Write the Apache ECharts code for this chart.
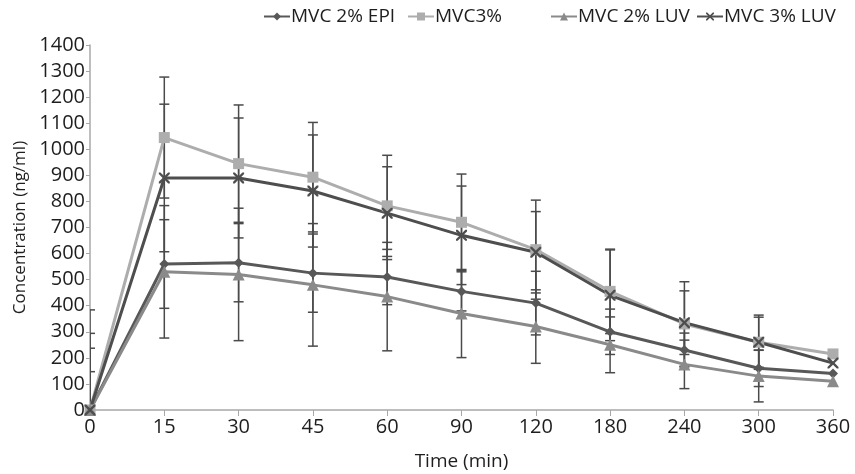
<!DOCTYPE html>
<html>
<head>
<meta charset="UTF-8">
<title>Concentration vs time</title>
<script type="text/javascript" src="https://cdn.jsdelivr.net/npm/echarts@6/dist/echarts.min.js"></script>
<style>
  body{margin:0;background:#fff}
</style>
</head>
<body>
<div id="main" style="width:855px;height:474px"></div>
<script type="text/javascript">
// time points (min)
var categories = ['0','15','30','45','60','90','120','180','240','300','360'];

// mean concentrations (ng/ml)
var epi2 = [0,560,565,525,510,455,410,300,230,160,140];
var mvc3 = [0,1045,945,893,783,720,615,455,330,260,215];
var luv2 = [0,530,520,480,435,370,320,250,175,130,110];
var luv3 = [0,890,890,840,755,670,605,440,335,260,180];

// error bar half-widths (ng/ml)
var epi2Err = [237,170,150,150,106,75,122,87,65,70,0];
var mvc3Err = [384,232,225,210,194,185,190,162,162,104,0];
var luv2Err = [147,254,254,235,208,169,141,107,93,99,0];
var luv3Err = [294,283,230,215,178,189,156,174,122,96,0];

var FONT = 'Open Sans';
var xMark = 'path://M0,0 L1.5,0 L5,3.5 L8.5,0 L10,0 L10,1.5 L6.5,5 L10,8.5 L10,10 L8.5,10 L5,6.5 L1.5,10 L0,10 L0,8.5 L3.5,5 L0,1.5 Z';

function errData(vals, errs) {
  return vals.map(function (v, i) { return [i, v - errs[i], v + errs[i]]; });
}

function errSeries(vals, errs) {
  return {
    type: 'custom',
    silent: true,
    clip: true,
    z: 1,
    data: errData(vals, errs),
    encode: {x: 0, y: [1, 2]},
    renderItem: function (params, api) {
      if (api.value(2) - api.value(1) <= 0) return null;
      var lo = api.coord([api.value(0), api.value(1)]);
      var hi = api.coord([api.value(0), api.value(2)]);
      var w = 5;
      var st = {stroke: '#4a4a4a', lineWidth: 1.5};
      return {
        type: 'group',
        children: [
          {type: 'line', shape: {x1: lo[0], y1: lo[1], x2: hi[0], y2: hi[1]}, style: st},
          {type: 'line', shape: {x1: lo[0]-w, y1: lo[1], x2: lo[0]+w, y2: lo[1]}, style: st},
          {type: 'line', shape: {x1: hi[0]-w, y1: hi[1], x2: hi[0]+w, y2: hi[1]}, style: st}
        ]
      };
    }
  };
}

function lineSeries(name, vals, color, symbol, size) {
  return {
    name: name,
    type: 'line',
    data: vals,
    z: 3,
    symbol: symbol,
    symbolSize: size,
    lineStyle: {color: color, width: 3},
    itemStyle: {color: color, borderWidth: 0}
  };
}

function legendAt(left, name) {
  return {
    left: left, top: 2,
    data: [name],
    itemWidth: 26, itemHeight: 10,
    itemGap: 0,
    textStyle: {fontFamily: FONT, fontSize: 19, color: '#1e1e1e', padding: [0,0,0,-4]}
  };
}

var myChart = echarts.init(document.getElementById('main'));
var option = {
  animation: false,
  backgroundColor: '#fff',
  legend: [
    legendAt(258, 'MVC 2% EPI'),
    legendAt(402, 'MVC3%'),
    legendAt(545, 'MVC 2% LUV'),
    legendAt(691, 'MVC 3% LUV')
  ],
  grid: {left: 90, right: 22, top: 45, bottom: 64, outerBoundsMode: 'none'},
  xAxis: {
    type: 'category',
    boundaryGap: false,
    data: categories,
    name: 'Time (min)',
    nameLocation: 'middle',
    nameGap: 42,
    nameTextStyle: {fontFamily: FONT, fontSize: 19, color: '#1e1e1e'},
    axisLine: {lineStyle: {color: '#a8a8a8', width: 1.5}},
    axisTick: {show: true, alignWithLabel: true, length: 6, lineStyle: {color: '#a8a8a8'}},
    axisLabel: {fontFamily: FONT, fontSize: 20, color: '#1e1e1e', margin: 7},
    splitLine: {show: false}
  },
  yAxis: {
    type: 'value',
    min: 0, max: 1400, interval: 100,
    name: 'Concentration (ng/ml)',
    nameLocation: 'middle',
    nameGap: 60,
    nameTextStyle: {fontFamily: FONT, fontSize: 17, color: '#1e1e1e'},
    axisLine: {show: true, lineStyle: {color: '#a8a8a8', width: 1.5}},
    axisTick: {show: true, length: 4, lineStyle: {color: '#a8a8a8'}},
    axisLabel: {fontFamily: FONT, fontSize: 20, color: '#1e1e1e', margin: 5,
      formatter: function (v) { return String(v); }},
    splitLine: {show: false}
  },
  series: [
    errSeries(epi2, epi2Err),
    errSeries(mvc3, mvc3Err),
    errSeries(luv2, luv2Err),
    errSeries(luv3, luv3Err),
    lineSeries('MVC 2% EPI', epi2, '#585858', 'diamond', 10),
    lineSeries('MVC3%', mvc3, '#adadad', 'rect', 11),
    lineSeries('MVC 2% LUV', luv2, '#8a8a8a', 'triangle', 12),
    lineSeries('MVC 3% LUV', luv3, '#4e4e4e', xMark, 11)
  ]
};
myChart.setOption(option);
</script>
</body>
</html>
